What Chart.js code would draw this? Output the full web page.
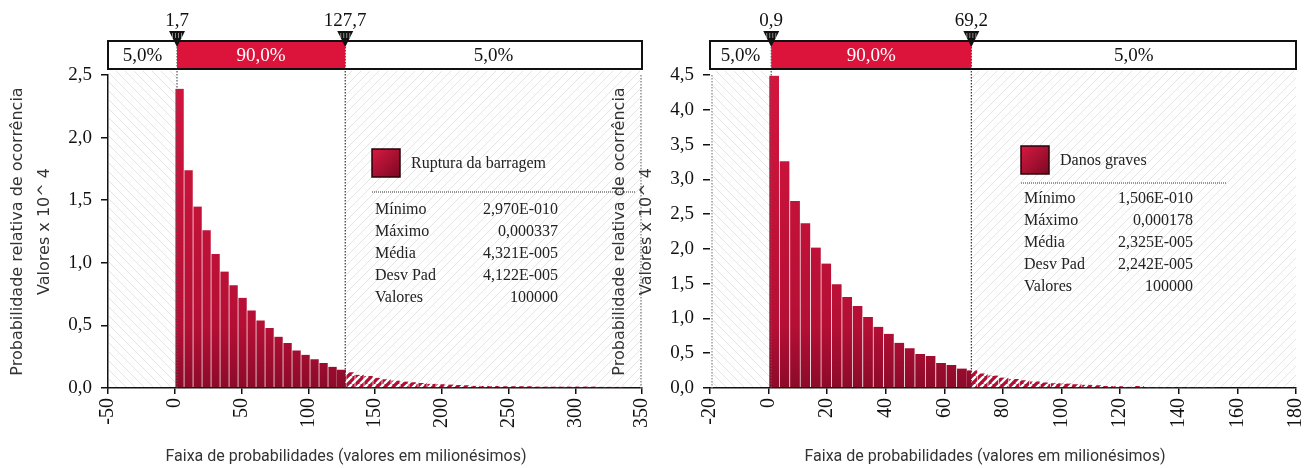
<!DOCTYPE html>
<html>
<head>
<meta charset="utf-8">
<script src="https://cdn.jsdelivr.net/npm/chart.js@4.4.0/dist/chart.umd.min.js"></script>
<style>
    html, body { margin: 0; padding: 0; background: #fff; }
    #wrap { position: relative; width: 1304px; height: 468px; overflow: hidden; }
    #c1 { position: absolute; left: 0; top: 0; width: 660px; height: 468px; }
    #c2 { position: absolute; left: 600px; top: 0; width: 704px; height: 468px; }
</style>
</head>
<body>
<div id="wrap">
    <canvas id="c1" width="660" height="468"></canvas>
    <canvas id="c2" width="704" height="468"></canvas>
</div>
<script>
// Ruptura da barragem: centro das classes (milionesimos) e probabilidade relativa (x 10^4)
var ruptureBins = [3.37, 10.11, 16.85, 23.59, 30.33, 37.07, 43.81, 50.55, 57.29, 64.03,
    70.77, 77.51, 84.25, 90.99, 97.73, 104.47, 111.21, 117.95, 124.69, 131.43,
    138.17, 144.91, 151.65, 158.39, 165.13, 171.87, 178.61, 185.35, 192.09, 198.83,
    205.57, 212.31, 219.05, 225.79, 232.53, 239.27, 246.01, 252.75, 259.49, 266.23,
    272.97, 279.71, 286.45, 293.19, 299.93, 306.67, 313.41, 320.15, 326.89, 333.63];
var ruptureValues = [2.39, 1.74, 1.45, 1.26, 1.07, 0.93, 0.82, 0.72, 0.62, 0.54,
    0.48, 0.41, 0.36, 0.30, 0.265, 0.23, 0.20, 0.17, 0.145, 0.125,
    0.105, 0.095, 0.082, 0.07, 0.06, 0.052, 0.045, 0.04, 0.034, 0.03,
    0.027, 0.024, 0.021, 0.018, 0.016, 0.015, 0.014, 0.013, 0.013, 0.013,
    0.012, 0.012, 0.012, 0.011, 0.011, 0.011, 0.011, 0.01, 0.01, 0.01];
var ruptureMarks = [1.7, 127.7];
var ruptureStats = ["2,970E-010", "0,000337", "4,321E-005", "4,122E-005", "100000"];

// Danos graves
var danosBins = [1.78, 5.34, 8.90, 12.46, 16.02, 19.58, 23.14, 26.70, 30.26, 33.82,
    37.38, 40.94, 44.50, 48.06, 51.62, 55.18, 58.74, 62.30, 65.86, 69.42,
    72.98, 76.54, 80.10, 83.66, 87.22, 90.78, 94.34, 97.90, 101.46, 105.02,
    108.58, 112.14, 115.70, 119.26, 122.82, 126.38, 129.94, 133.50, 137.06, 140.62,
    144.18, 147.74, 151.30, 154.86, 158.42, 161.98, 165.54, 169.10, 172.66, 176.22];
var danosValues = [4.49, 3.26, 2.69, 2.37, 2.02, 1.79, 1.49, 1.31, 1.18, 1.02,
    0.88, 0.78, 0.65, 0.57, 0.49, 0.46, 0.36, 0.33, 0.28, 0.25,
    0.21, 0.18, 0.15, 0.13, 0.11, 0.095, 0.08, 0.07, 0.065, 0.055,
    0.045, 0.04, 0.03, 0.025, 0.018, 0.03, 0.016, 0.015, 0.015, 0.014,
    0.014, 0.013, 0.013, 0.012, 0.012, 0.012, 0.011, 0.011, 0.011, 0.01];
var danosMarks = [0.9, 69.2];
var danosStats = ["1,506E-010", "0,000178", "2,325E-005", "2,242E-005", "100000"];

var statLabels = ["Mínimo", "Máximo", "Média", "Desv Pad", "Valores"];
var bandLabels = ["5,0%", "90,0%", "5,0%"];
var yTitle = ["Probabilidade relativa de ocorrência", "Valores x 10^ 4"];
var xTitle = "Faixa de probabilidades (valores em milionésimos)";

var SERIF = "'Liberation Serif', 'Times New Roman', serif";
var SANS = "'DejaVu Sans', Verdana, sans-serif";

function comma(v, d) {
    return v.toFixed(d).replace(".", ",");
}

// diagonal stripes; dir > 0 is '/', otherwise '\'
function stripes(ctx, dir, bg, fg, size, lw) {
    var c = document.createElement("canvas");
    c.width = size;
    c.height = size;
    var g = c.getContext("2d");
    g.fillStyle = bg;
    g.fillRect(0, 0, size, size);
    g.strokeStyle = fg;
    g.lineWidth = lw;
    g.beginPath();
    for (var k = -1; k <= 1; k++) {
        if (dir > 0) {
            g.moveTo(k * size, size);
            g.lineTo(k * size + size, 0);
        } else {
            g.moveTo(k * size, 0);
            g.lineTo(k * size + size, size);
        }
    }
    g.stroke();
    return ctx.createPattern(c, "repeat");
}

function barGradient(chart) {
    var a = chart.chartArea;
    var g = chart.ctx.createLinearGradient(0, a.bottom, 0, a.top);
    g.addColorStop(0, "#8c0a29");
    g.addColorStop(0.2, "#b50f35");
    g.addColorStop(1, "#d2163e");
    return g;
}

function tailPattern(ctx) {
    return stripes(ctx, 1, "#b00e33", "#ffffff", 8, 2.4);
}

function dotted(ctx, x, y0, y1, color) {
    ctx.save();
    ctx.strokeStyle = color;
    ctx.lineWidth = 1.2;
    ctx.setLineDash([1.5, 1.5]);
    ctx.beginPath();
    ctx.moveTo(x, y0);
    ctx.lineTo(x, y1);
    ctx.stroke();
    ctx.restore();
}

var panelDecor = {
    id: "panelDecor",
    beforeDraw: function (chart, args, o) {
        var ctx = chart.ctx, a = chart.chartArea, x = chart.scales.x;
        var lo = x.getPixelForValue(o.marks[0]);
        var hi = x.getPixelForValue(o.marks[1]);
        ctx.save();
        ctx.fillStyle = stripes(ctx, -1, "#ffffff", "#e4e4e4", 9, 1);
        ctx.fillRect(a.left + 1, a.top - 4, lo - a.left - 1, a.bottom - a.top + 4);
        ctx.fillStyle = stripes(ctx, 1, "#ffffff", "#e4e4e4", 9, 1);
        ctx.fillRect(hi, a.top - 4, a.right - hi, a.bottom - a.top + 4);
        ctx.restore();
    },
    afterDatasetsDraw: function (chart, args, o) {
        var ctx = chart.ctx, a = chart.chartArea, x = chart.scales.x;
        var lo = x.getPixelForValue(o.marks[0]);
        var hi = x.getPixelForValue(o.marks[1]);
        ctx.save();

        // bar that straddles the upper marker: solid left part, hatched right part
        chart.getDatasetMeta(0).data.forEach(function (bar) {
            var p = bar.getProps(["x", "y", "base", "width"], true);
            var l = p.x - p.width / 2, r = p.x + p.width / 2;
            if (l < hi && r > hi) {
                ctx.fillStyle = barGradient(chart);
                ctx.fillRect(l, p.y, hi - l, p.base - p.y);
                ctx.fillStyle = tailPattern(ctx);
                ctx.fillRect(hi, p.y, r - hi, p.base - p.y);
            }
        });

        // marker lines and plot edges
        dotted(ctx, lo, 47, a.bottom, "#555");
        dotted(ctx, hi, 47, a.bottom, "#333");
        if (o.rightEdge) dotted(ctx, a.right - 1, a.top, a.bottom, "#777");
        if (o.leftEdge) dotted(ctx, a.left + 2, a.top, a.bottom, "#888");

        // percentile band
        var top = 41, h = 28;
        ctx.fillStyle = "#dc143c";
        ctx.fillRect(lo, top, hi - lo, h);
        ctx.strokeStyle = "#111";
        ctx.lineWidth = 2;
        ctx.strokeRect(a.left, top, a.right - a.left, h);
        ctx.font = "19px " + SERIF;
        ctx.textAlign = "center";
        ctx.textBaseline = "middle";
        ctx.fillStyle = "#111";
        ctx.fillText(bandLabels[0], (a.left + lo) / 2, top + h / 2 + 1);
        ctx.fillText(bandLabels[2], (hi + a.right) / 2, top + h / 2 + 1);
        ctx.fillStyle = "#ffffff";
        ctx.fillText(bandLabels[1], (lo + hi) / 2, top + h / 2 + 1);

        // markers
        [lo, hi].forEach(function (px, i) {
            ctx.fillStyle = "#111";
            ctx.beginPath();
            ctx.moveTo(px - 8, 31);
            ctx.lineTo(px + 8, 31);
            ctx.lineTo(px, 47);
            ctx.closePath();
            ctx.fill();
            ctx.strokeStyle = "rgba(255,255,255,0.75)";
            ctx.lineWidth = 0.7;
            [-4.5, -1.5, 1.5, 4.5].forEach(function (dx) {
                ctx.beginPath();
                ctx.moveTo(px + dx, 33);
                ctx.lineTo(px + dx, 38);
                ctx.stroke();
            });
            ctx.fillStyle = "#111";
            ctx.font = "19px " + SERIF;
            ctx.fillText(comma(o.marks[i], 1), px, 21);
        });

        // legend and statistics
        var b = o.box;
        var sw = ctx.createLinearGradient(b.x, b.y, b.x + 28, b.y + 28);
        sw.addColorStop(0, "#d81a42");
        sw.addColorStop(1, "#7a0822");
        ctx.fillStyle = sw;
        ctx.fillRect(b.x, b.y, 28, 28);
        ctx.strokeStyle = "#2a0008";
        ctx.lineWidth = 1.5;
        ctx.strokeRect(b.x, b.y, 28, 28);
        ctx.fillStyle = "#222";
        ctx.textAlign = "left";
        ctx.font = "16px " + SERIF;
        ctx.fillText(o.label, b.x + 39, b.y + 15);
        ctx.save();
        ctx.strokeStyle = "#555";
        ctx.lineWidth = 1.2;
        ctx.setLineDash([1, 1]);
        ctx.beginPath();
        ctx.moveTo(b.x, b.lineY);
        ctx.lineTo(b.lineEnd, b.lineY);
        ctx.stroke();
        ctx.restore();
        statLabels.forEach(function (s, i) {
            var yy = b.rowY + i * 22;
            ctx.textAlign = "left";
            ctx.fillText(s, b.x + 3, yy);
            ctx.textAlign = "right";
            ctx.fillText(o.stats[i], b.valX, yy);
        });
        ctx.restore();
    },
    afterDraw: function (chart, args, o) {
        var ctx = chart.ctx;
        ctx.save();
        ctx.fillStyle = "#333";
        ctx.font = "16px Roboto, 'Open Sans', sans-serif";
        ctx.textAlign = "center";
        ctx.textBaseline = "middle";
        ctx.fillText(xTitle, o.titleX, 457);
        ctx.restore();
    }
};

function buildChart(id, bins, values, o) {
    var points = bins.map(function (b, i) {
        return { x: b, y: values[i] };
    });
    return new Chart(document.getElementById(id), {
        type: "bar",
        data: {
            datasets: [{
                data: points,
                barPercentage: 1,
                categoryPercentage: 1,
                borderWidth: { left: 1, right: 0, top: 0, bottom: 0 },
                borderColor: "rgba(255,255,255,0.16)",
                backgroundColor: function (c) {
                    if (!c.chart.chartArea) return "#b80f35";
                    var p = c.raw ? c.raw.x : 0;
                    return p > o.marks[1] ? tailPattern(c.chart.ctx) : barGradient(c.chart);
                },
            }],
        },
        options: {
            responsive: false,
            animation: false,
            devicePixelRatio: 1,
            layout: { padding: { top: 75, left: 0, right: o.padRight, bottom: 0 } },
            plugins: {
                legend: { display: false },
                tooltip: { enabled: false },
                panelDecor: o,
            },
            scales: {
                x: {
                    type: "linear",
                    min: o.xMin,
                    max: o.xMax,
                    offset: false,
                    grid: { display: true, drawOnChartArea: false, offset: false, tickLength: 6, color: "#111", lineWidth: 1.5 },
                    border: { display: true, color: "#111", width: 1.5 },
                    ticks: {
                        stepSize: o.xStep,
                        minRotation: 90,
                        maxRotation: 90,
                        padding: 4,
                        color: "#111",
                        font: { family: SERIF, size: 20 },
                        callback: function (v) { return String(v); },
                    },
                    afterFit: function (s) {
                        s.height = 80;
                        s.paddingLeft = 0;
                        s.paddingRight = 0;
                    },
                },
                y: {
                    min: 0,
                    max: o.yMax,
                    grid: { display: true, drawOnChartArea: false, tickLength: 7, color: "#111", lineWidth: 1.5 },
                    border: { display: o.yBorder, color: "#111", width: 1.5 },
                    ticks: {
                        stepSize: 0.5,
                        padding: 9,
                        color: "#111",
                        font: { family: SERIF, size: 19 },
                        callback: function (v) { return comma(v, 1); },
                    },
                    title: {
                        display: true,
                        text: yTitle,
                        color: "#333",
                        font: { family: SANS, size: 16, lineHeight: 1.7 },
                        padding: { top: o.titlePad, bottom: 0 },
                    },
                    afterFit: function (s) {
                        s.width = o.yWidth;
                    },
                },
            },
        },
        plugins: [panelDecor],
    });
}

buildChart("c1", ruptureBins, ruptureValues, {
    marks: ruptureMarks,
    stats: ruptureStats,
    label: "Ruptura da barragem",
    xMin: -50, xMax: 350, xStep: 50, yMax: 2.5,
    yWidth: 108, padRight: 18, titlePad: 4.5, yBorder: true,
    rightEdge: true, leftEdge: false,
    titleX: 346,
    box: { x: 372, y: 149, lineY: 192, lineEnd: 635, rowY: 210, valX: 558 },
});

buildChart("c2", danosBins, danosValues, {
    marks: danosMarks,
    stats: danosStats,
    label: "Danos graves",
    xMin: -20, xMax: 180, xStep: 20, yMax: 4.5,
    yWidth: 110, padRight: 8, titlePad: 6.5, yBorder: false,
    rightEdge: false, leftEdge: true,
    titleX: 385,
    box: { x: 421, y: 146, lineY: 183, lineEnd: 627, rowY: 199, valX: 593 },
});
</script>
</body>
</html>
